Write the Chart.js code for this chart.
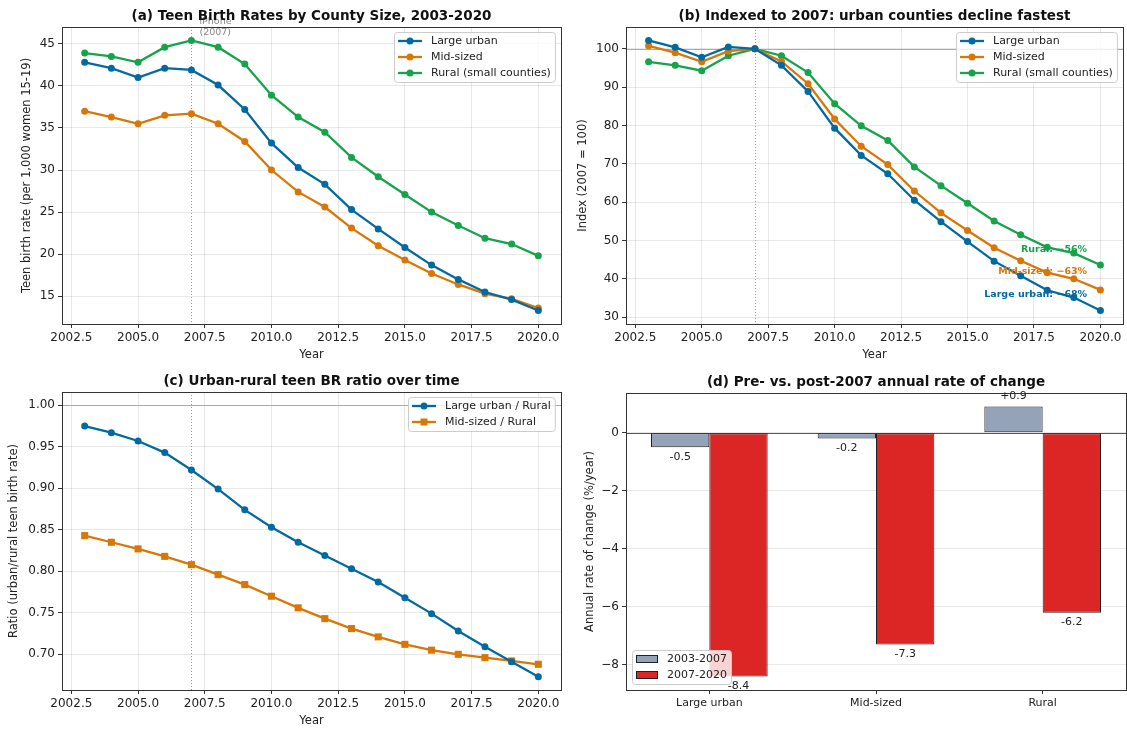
<!DOCTYPE html>
<html>
<head>
<meta charset="utf-8">
<script src="https://cdn.jsdelivr.net/npm/chart.js@4.4.1/dist/chart.umd.min.js"></script>
<style>
  body { margin: 0; background: #fff; width: 1127px; height: 730px; position: relative; overflow: hidden; }
  .panel { position: absolute; }
</style>
</head>
<body>
<div class="panel" style="left:0;top:0;width:570px;height:365px"><canvas id="chartA"></canvas></div>
<div class="panel" style="left:570px;top:0;width:557px;height:365px"><canvas id="chartB"></canvas></div>
<div class="panel" style="left:0;top:365px;width:570px;height:365px"><canvas id="chartC"></canvas></div>
<div class="panel" style="left:570px;top:365px;width:557px;height:365px"><canvas id="chartD"></canvas></div>
<script>
// ---- data ----
const years = [2003, 2004, 2005, 2006, 2007, 2008, 2009, 2010, 2011, 2012, 2013, 2014, 2015, 2016, 2017, 2018, 2019, 2020];
const largeUrban = [42.8, 42.1, 41.0, 42.1, 41.9, 40.1, 37.2, 33.2, 30.3, 28.3, 25.3, 23.0, 20.8, 18.7, 17.0, 15.5, 14.6, 13.3];
const midSized   = [37.0, 36.3, 35.5, 36.5, 36.7, 35.5, 33.4, 30.0, 27.4, 25.6, 23.1, 21.0, 19.3, 17.7, 16.4, 15.3, 14.7, 13.6];
const rural      = [43.9, 43.5, 42.8, 44.6, 45.4, 44.6, 42.6, 38.9, 36.3, 34.5, 31.5, 29.2, 27.1, 25.0, 23.4, 21.9, 21.2, 19.8];

const idxLarge = [102.2, 100.4, 97.8, 100.5, 100, 95.7, 88.9, 79.3, 72.2, 67.4, 60.5, 54.9, 49.7, 44.6, 40.8, 37.0, 35.1, 31.7];
const idxMid   = [100.8, 99.0, 96.6, 99.4, 100, 96.7, 90.9, 81.7, 74.6, 69.8, 62.9, 57.2, 52.6, 48.1, 44.7, 41.6, 40.0, 37.1];
const idxRural = [96.6, 95.7, 94.3, 98.2, 100, 98.2, 93.8, 85.7, 79.9, 76.1, 69.2, 64.3, 59.7, 55.1, 51.5, 48.2, 46.7, 43.6];

const ratioLarge = [0.975, 0.967, 0.957, 0.943, 0.922, 0.899, 0.874, 0.853, 0.835, 0.819, 0.803, 0.787, 0.768, 0.749, 0.728, 0.709, 0.691, 0.673];
const ratioMid   = [0.843, 0.835, 0.827, 0.818, 0.808, 0.796, 0.784, 0.770, 0.756, 0.743, 0.731, 0.721, 0.712, 0.705, 0.700, 0.696, 0.692, 0.688];

const groups = ['Large urban', 'Mid-sized', 'Rural'];
const ratePre  = [-0.5, -0.2, 0.9];
const ratePost = [-8.4, -7.3, -6.2];

const yearTicks   = [2002.5, 2005, 2007.5, 2010, 2012.5, 2015, 2017.5, 2020];
const birthTicks  = [15, 20, 25, 30, 35, 40, 45];
const indexTicks  = [30, 40, 50, 60, 70, 80, 90, 100];
const ratioTicks  = [0.70, 0.75, 0.80, 0.85, 0.90, 0.95, 1.00];
const changeTicks = [-8, -6, -4, -2, 0];

// ---- style ----
const BLUE = '#0369a1', ORANGE = '#d97706', GREEN = '#16a34a', SLATE = '#94a3b8', RED = '#dc2626';
const GRID = 'rgba(0,0,0,0.09)';
const FONT = '"DejaVu Sans", sans-serif';

Chart.defaults.font.family = FONT;
Chart.defaults.color = '#222';
Chart.defaults.animation = false;
Chart.defaults.plugins.legend.display = false;
Chart.defaults.plugins.tooltip.enabled = false;

function pts(ys) {
    return years.map((x, i) => ({ x: x, y: ys[i] }));
}

function lineSet(label, ys, color, style) {
    return {
        label: label,
        data: pts(ys),
        borderColor: color,
        backgroundColor: color,
        pointBackgroundColor: color,
        pointBorderWidth: 0,
        pointRadius: style === 'rect' ? 5 : 3.5,
        pointStyle: style || 'circle',
        borderWidth: 2.3,
        tension: 0
    };
}

function fixedTicks(list) {
    return function(scale) { scale.ticks = list.map(v => ({ value: v })); };
}

function yearAxis(height, padBottom) {
    return {
        type: 'linear', min: 2002.15, max: 2020.85,
        afterBuildTicks: fixedTicks(yearTicks),
        afterFit: s => { s.height = height; },
        ticks: { callback: v => v.toFixed(1), font: { size: 12 }, padding: 3, maxRotation: 0, autoSkip: false },
        grid: { color: GRID, tickColor: '#333', tickLength: 4 },
        border: { display: false },
        title: { display: true, text: 'Year', font: { size: 11.5 }, padding: { top: 0, bottom: padBottom } }
    };
}

function valueAxis(min, max, list, fmt, width, title, titlePad) {
    return {
        type: 'linear', min: min, max: max,
        afterBuildTicks: fixedTicks(list),
        afterFit: s => { s.width = width; },
        ticks: { callback: fmt, font: { size: 12 }, padding: 3, autoSkip: false },
        grid: { color: GRID, tickColor: '#333', tickLength: 4 },
        border: { display: false },
        title: { display: true, text: title, font: { size: 11.5 }, padding: { top: titlePad, bottom: 0 } }
    };
}

// legend box drawn inside the plot, matplotlib style
function drawLegend(ctx, a, L) {
    ctx.font = '11px ' + FONT;
    const hw = L.handle || 24;
    const tw = Math.max(...L.items.map(it => ctx.measureText(it.label).width));
    const w = 3 + hw + 9 + tw + 5;
    const h = L.items.length * 16 + 2;
    let x, y;
    if (L.corner === 'll') {
        x = a.left + 6; y = a.bottom - 6 - h;
    } else {
        x = a.right - 6 - w; y = a.top + 5;
    }
    x = Math.round(x); y = Math.round(y);
    ctx.beginPath();
    ctx.roundRect(x + 0.5, y + 0.5, w, h, 3);
    ctx.fillStyle = 'rgba(255,255,255,0.8)';
    ctx.fill();
    ctx.strokeStyle = '#ccc';
    ctx.lineWidth = 1;
    ctx.stroke();
    L.items.forEach((it, i) => {
        const cy = y + 9 + i * 16;
        const hx = x + 4;
        if (it.kind === 'rect') {
            ctx.fillStyle = it.color;
            ctx.fillRect(hx, cy - 4, hw, 8);
            ctx.strokeStyle = '#222';
            ctx.strokeRect(hx + 0.5, cy - 3.5, hw - 1, 7);
        } else {
            ctx.strokeStyle = it.color;
            ctx.lineWidth = 2.3;
            ctx.beginPath();
            ctx.moveTo(hx, cy);
            ctx.lineTo(hx + hw, cy);
            ctx.stroke();
            ctx.lineWidth = 1;
            ctx.fillStyle = it.color;
            if (it.marker === 'rect') {
                ctx.fillRect(hx + hw / 2 - 3.5, cy - 3.5, 7, 7);
            } else {
                ctx.beginPath();
                ctx.arc(hx + hw / 2, cy, 3.5, 0, Math.PI * 2);
                ctx.fill();
            }
        }
        ctx.fillStyle = '#222';
        ctx.textAlign = 'left';
        ctx.textBaseline = 'middle';
        ctx.fillText(it.label, hx + hw + 9, cy + 0.5);
    });
}

const decor = {
    id: 'decor',
    beforeDatasetsDraw(chart, args, o) {
        const { ctx, chartArea: a, scales } = chart;
        ctx.save();
        if (o.vline != null) {
            const x = Math.round(scales.x.getPixelForValue(o.vline)) + 0.5;
            ctx.strokeStyle = '#999';
            ctx.lineWidth = 1;
            ctx.setLineDash([1, 2]);
            ctx.beginPath();
            ctx.moveTo(x, a.top);
            ctx.lineTo(x, a.bottom);
            ctx.stroke();
            ctx.setLineDash([]);
        }
        if (o.hline != null) {
            const y = Math.round(scales.y.getPixelForValue(o.hline)) + 0.5;
            ctx.strokeStyle = o.hlineColor || '#aaa';
            ctx.lineWidth = 1;
            ctx.beginPath();
            ctx.moveTo(a.left, y);
            ctx.lineTo(a.right, y);
            ctx.stroke();
        }
        ctx.restore();
    },
    afterDatasetsDraw(chart, args, o) {
        if (!o.barLabels) return;
        const ctx = chart.ctx;
        ctx.save();
        ctx.font = '11px ' + FONT;
        ctx.fillStyle = '#222';
        ctx.textAlign = 'center';
        ctx.textBaseline = 'middle';
        chart.data.datasets.forEach((ds, i) => {
            chart.getDatasetMeta(i).data.forEach((el, j) => {
                const v = ds.data[j];
                const txt = v > 0 ? '+' + v.toFixed(1) : v.toFixed(1);
                ctx.fillText(txt, el.x, v >= 0 ? el.y - 10 : el.y + 10);
            });
        });
        ctx.restore();
    },
    afterDraw(chart, args, o) {
        const { ctx, chartArea: a, scales } = chart;
        ctx.save();
        // frame
        ctx.strokeStyle = '#333';
        ctx.lineWidth = 1;
        ctx.strokeRect(Math.round(a.left) + 0.5, Math.round(a.top) + 0.5,
            Math.round(a.right - a.left), Math.round(a.bottom - a.top));
        // text notes
        (o.notes || []).forEach(n => {
            ctx.font = n.font;
            ctx.fillStyle = n.color;
            ctx.textAlign = n.align || 'left';
            ctx.textBaseline = 'middle';
            const x = scales.x.getPixelForValue(n.x);
            const y = scales.y.getPixelForValue(n.y);
            const lines = n.text.split('\n');
            lines.forEach((t, k) => ctx.fillText(t, x, y - (lines.length - 1 - k) * 11));
        });
        if (o.legend) drawLegend(ctx, a, o.legend);
        // title
        if (o.title) {
            ctx.font = 'bold 13.5px ' + FONT;
            ctx.fillStyle = '#111';
            ctx.textAlign = 'center';
            ctx.textBaseline = 'middle';
            ctx.fillText(o.title, (a.left + a.right) / 2, a.top - 11);
        }
        ctx.restore();
    }
};
Chart.register(decor);

const lineLegend = (labels, colors, markers) => labels.map((l, i) => ({
    label: l, color: colors[i], kind: 'line', marker: markers ? markers[i] : 'circle'
}));

// (a) raw rates
new Chart(document.getElementById('chartA'), {
    type: 'line',
    data: {
        datasets: [
            lineSet('Large urban', largeUrban, BLUE),
            lineSet('Mid-sized', midSized, ORANGE),
            lineSet('Rural (small counties)', rural, GREEN)
        ]
    },
    options: {
        responsive: true,
        maintainAspectRatio: false,
        layout: { padding: { top: 27, right: 9, left: 0, bottom: 0 } },
        scales: {
            x: yearAxis(41, 3.4),
            y: valueAxis(11.7, 47.0, birthTicks, v => String(v), 62, 'Teen birth rate (per 1,000 women 15-19)', 20)
        },
        plugins: {
            decor: {
                title: '(a) Teen Birth Rates by County Size, 2003-2020',
                vline: 2007,
                notes: [{ x: 2007.3, y: 46.4, text: 'iPhone\n(2007)', color: '#8a8a8a', font: '9.5px ' + FONT }],
                legend: { corner: 'ur', items: lineLegend(['Large urban', 'Mid-sized', 'Rural (small counties)'], [BLUE, ORANGE, GREEN]) }
            }
        }
    }
});

// (b) indexed to 2007
new Chart(document.getElementById('chartB'), {
    type: 'line',
    data: {
        datasets: [
            lineSet('Large urban', idxLarge, BLUE),
            lineSet('Mid-sized', idxMid, ORANGE),
            lineSet('Rural (small counties)', idxRural, GREEN)
        ]
    },
    options: {
        responsive: true,
        maintainAspectRatio: false,
        layout: { padding: { top: 27, right: 1, left: 0, bottom: 0 } },
        scales: {
            x: yearAxis(41, 3.4),
            y: valueAxis(28.2, 105.7, indexTicks, v => String(v), 56, 'Index (2007 = 100)', 6)
        },
        plugins: {
            decor: {
                title: '(b) Indexed to 2007: urban counties decline fastest',
                vline: 2007,
                hline: 100,
                notes: [
                    { x: 2019.5, y: 47.6, text: 'Rural: \u221256%', color: GREEN, font: 'bold 9.5px ' + FONT, align: 'right' },
                    { x: 2019.5, y: 41.9, text: 'Mid-sized: \u221263%', color: ORANGE, font: 'bold 9.5px ' + FONT, align: 'right' },
                    { x: 2019.5, y: 35.9, text: 'Large urban: \u221268%', color: BLUE, font: 'bold 9.5px ' + FONT, align: 'right' }
                ],
                legend: { corner: 'ur', items: lineLegend(['Large urban', 'Mid-sized', 'Rural (small counties)'], [BLUE, ORANGE, GREEN]) }
            }
        }
    }
});

// (c) urban / rural ratio
new Chart(document.getElementById('chartC'), {
    type: 'line',
    data: {
        datasets: [
            lineSet('Large urban / Rural', ratioLarge, BLUE),
            lineSet('Mid-sized / Rural', ratioMid, ORANGE, 'rect')
        ]
    },
    options: {
        responsive: true,
        maintainAspectRatio: false,
        layout: { padding: { top: 27, right: 9, left: 0, bottom: 0 } },
        scales: {
            x: yearAxis(40, 2.4),
            y: valueAxis(0.657, 1.016, ratioTicks, v => v.toFixed(2), 62, 'Ratio (urban/rural teen birth rate)', 7)
        },
        plugins: {
            decor: {
                title: '(c) Urban-rural teen BR ratio over time',
                vline: 2007,
                hline: 1.0,
                legend: { corner: 'ur', items: lineLegend(['Large urban / Rural', 'Mid-sized / Rural'], [BLUE, ORANGE], ['circle', 'rect']) }
            }
        }
    }
});

// (d) pre vs post 2007 annual change
new Chart(document.getElementById('chartD'), {
    type: 'bar',
    data: {
        labels: groups,
        datasets: [
            { label: '2003-2007', data: ratePre, backgroundColor: SLATE, borderColor: '#222', borderWidth: 1,
              borderSkipped: false, barPercentage: 1, categoryPercentage: 0.7 },
            { label: '2007-2020', data: ratePost, backgroundColor: RED, borderColor: '#222', borderWidth: 1,
              borderSkipped: false, barPercentage: 1, categoryPercentage: 0.7 }
        ]
    },
    options: {
        responsive: true,
        maintainAspectRatio: false,
        layout: { padding: { top: 28, right: 1, left: 0, bottom: 0 } },
        scales: {
            x: {
                type: 'category', offset: true,
                afterFit: s => { s.height = 40; },
                ticks: { font: { size: 11 }, padding: 3, maxRotation: 0 },
                grid: { offset: false, drawOnChartArea: false, tickColor: '#333', tickLength: 4 },
                border: { display: false }
            },
            y: valueAxis(-8.865, 1.365, changeTicks, v => v === 0 ? '0' : '\u2212' + Math.abs(v), 56, 'Annual rate of change (%/year)', 13)
        },
        plugins: {
            decor: {
                title: '(d) Pre- vs. post-2007 annual rate of change',
                hline: 0,
                hlineColor: '#555',
                barLabels: true,
                legend: { corner: 'll', handle: 22, items: [
                    { label: '2003-2007', color: SLATE, kind: 'rect' },
                    { label: '2007-2020', color: RED, kind: 'rect' }
                ] }
            }
        }
    }
});
</script>
</body>
</html>
